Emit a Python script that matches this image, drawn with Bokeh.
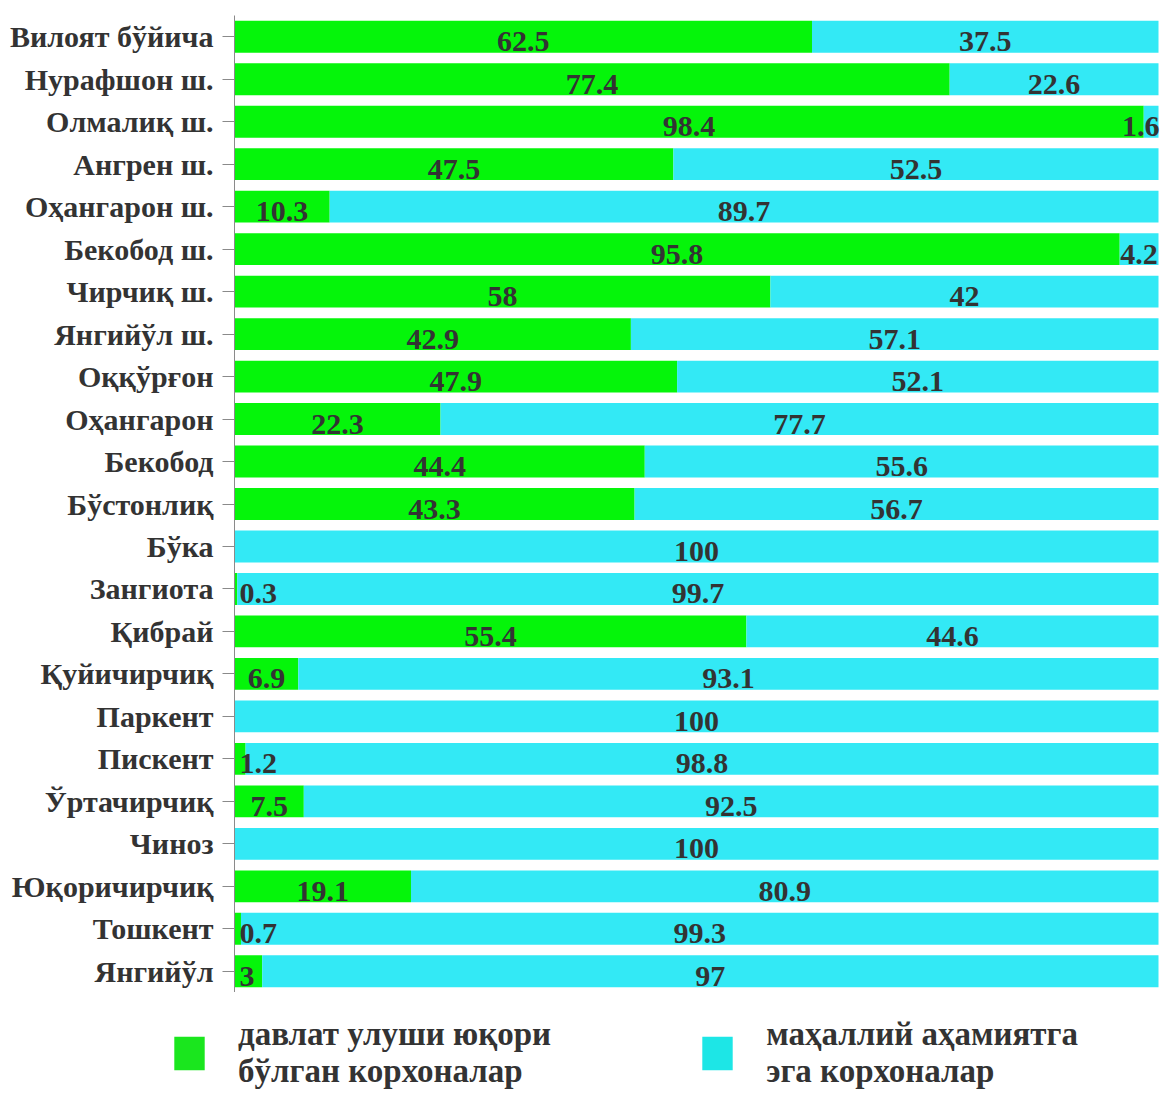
from bokeh.plotting import figure
from bokeh.models import ColumnDataSource, FactorRange, LabelSet, Legend, LegendItem
from bokeh.embed import file_html
from bokeh.resources import INLINE

categories = ["Вилоят бўйича", "Нурафшон ш.", "Олмалиқ ш.", "Ангрен ш.", "Оҳангарон ш.",
              "Бекобод ш.", "Чирчиқ ш.", "Янгийўл ш.", "Оққўрғон", "Оҳангарон", "Бекобод",
              "Бўстонлиқ", "Бўка", "Зангиота", "Қибрай", "Қуйичирчиқ", "Паркент", "Пискент",
              "Ўртачирчиқ", "Чиноз", "Юқоричирчиқ", "Тошкент", "Янгийўл"]
state_share = [62.5, 77.4, 98.4, 47.5, 10.3, 95.8, 58, 42.9, 47.9, 22.3, 44.4, 43.3,
               0, 0.3, 55.4, 6.9, 0, 1.2, 7.5, 0, 19.1, 0.7, 3]
local_share = [37.5, 22.6, 1.6, 52.5, 89.7, 4.2, 42, 57.1, 52.1, 77.7, 55.6, 56.7,
               100, 99.7, 44.6, 93.1, 100, 98.8, 92.5, 100, 80.9, 99.3, 97]
series_names = ["давлат улуши юқори\nбўлган корхоналар", "маҳаллий аҳамиятга\nэга корхоналар"]

GREEN = "#05F50A"
CYAN = "#33E9F5"
LEG_GREEN = "#1AE61E"
LEG_CYAN = "#1DE6E6"
FONT = "Liberation Serif"
TXT = "#333333"
X_END = 100.216

source = ColumnDataSource(dict(cat=categories, state=state_share, local=local_share))

p = figure(y_range=FactorRange(*reversed(categories), range_padding=0),
           x_range=(0, X_END), width=1160, height=992,
           x_axis_location=None, output_backend="svg", toolbar_location=None,
           min_border_left=234, min_border_right=0, min_border_top=15, min_border_bottom=0)

rs = p.hbar_stack(["state", "local"], y="cat", height=0.75, color=[GREEN, CYAN],
                  line_color=None, source=source)

# data labels: centred in each segment, kept inside the plot at both ends
labs = {"center": dict(x=[], y=[], t=[]), "left": dict(x=[], y=[], t=[]),
        "right": dict(x=[], y=[], t=[])}
for c, a, b in zip(categories, state_share, local_share):
    for start, val in ((0, a), (a, b)):
        if val <= 0:
            continue
        mid = start + val / 2
        if mid < 2.2:
            key, xpos = "left", start
        elif mid > 99:
            key, xpos = "right", X_END
        else:
            key, xpos = "center", mid
        labs[key]["x"].append(xpos)
        labs[key]["y"].append(c)
        labs[key]["t"].append(f"{val:g}")

common = dict(text_font=FONT, text_font_style="bold", text_font_size="30px",
              text_color=TXT, text_baseline="middle", y_offset=-5)
offsets = {"center": 0, "left": 5, "right": -1}
for key, d in labs.items():
    p.add_layout(LabelSet(x="x", y="y", text="t", source=ColumnDataSource(d),
                          text_align=key, x_offset=offsets[key], **common))

ax = p.yaxis[0]
ax.major_label_text_font = FONT
ax.major_label_text_font_style = "bold"
ax.major_label_text_font_size = "30px"
ax.major_label_text_color = TXT
ax.axis_line_color = "#8a8a8a"
ax.major_tick_line_color = "#8a8a8a"
ax.major_tick_out = 12
ax.major_tick_in = 0
ax.major_label_standoff = 9
ax.minor_tick_line_color = None

p.xgrid.visible = False
p.ygrid.visible = False
p.outline_line_color = None

# legend strip under the chart (separate root so its frame spans the full width)
p2 = figure(width=1160, height=101, x_range=(0, 1), y_range=(0, 1),
            x_axis_location=None, y_axis_location=None, output_backend="svg",
            toolbar_location=None, min_border=0)
p2.xgrid.visible = False
p2.ygrid.visible = False
p2.outline_line_color = None
# zero-width bars: they only carry the legend swatch colours
g1 = p2.hbar(y=[0.5], left=[0], right=[0], height=0, color=LEG_GREEN, line_color=None)
g2 = p2.hbar(y=[0.5], left=[0], right=[0], height=0, color=LEG_CYAN, line_color=None)

legend = Legend(items=[LegendItem(label=series_names[0], renderers=[g1]),
                       LegendItem(label=series_names[1], renderers=[g2])],
                orientation="horizontal", location=(170, 3))
legend.label_text_font = FONT
legend.label_text_font_style = "bold"
legend.label_text_font_size = "33px"
legend.label_text_line_height = 1.25
legend.label_text_color = TXT
legend.glyph_width = 38
legend.glyph_height = 42
legend.label_standoff = 30
legend.spacing = 147
legend.margin = 0
legend.padding = 10
legend.border_line_color = None
legend.background_fill_alpha = 0
p2.add_layout(legend, "center")

open("out.html", "w").write(file_html([p, p2], INLINE))
